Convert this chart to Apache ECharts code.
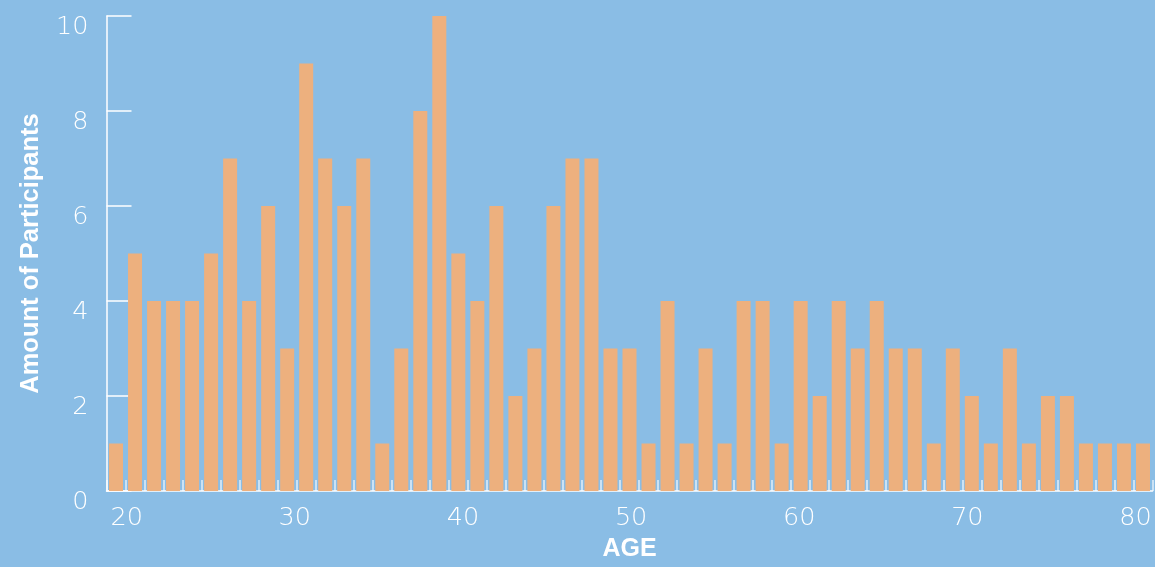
<!DOCTYPE html>
<html>
<head>
<meta charset="utf-8">
<script src="https://cdn.jsdelivr.net/npm/echarts@6/dist/echarts.min.js"></script>
<style>
  html, body { margin: 0; padding: 0; background: #8ABDE5; }
  #chart { width: 1155px; height: 567px; }
</style>
</head>
<body>
<div id="chart"></div>
<script>
// Ages that have at least one participant (one bar each)
const ages = [19, 20, 22, 23, 24, 25, 26, 27, 28, 30, 31, 32, 33, 34, 35, 36, 37, 39, 40, 41,
              42, 43, 44, 45, 46, 48, 49, 50, 51, 52, 53, 54, 56, 57, 58, 59, 60, 61, 62, 63,
              65, 66, 67, 68, 69, 70, 71, 72, 74, 75, 76, 77, 78, 79, 80];
// Number of participants per age
const counts = [1, 5, 4, 4, 4, 5, 7, 4, 6, 3, 9, 7, 6, 7, 1, 3, 8, 10, 5, 4,
                6, 2, 3, 6, 7, 7, 3, 3, 1, 4, 1, 3, 1, 4, 4, 1, 4, 2, 4, 3,
                4, 3, 3, 1, 3, 2, 1, 3, 1, 2, 2, 1, 1, 1, 1];
// Age scale shown under the bars
const ageTicks = [20, 30, 40, 50, 60, 70, 80];
const countTicks = [0, 2, 4, 6, 8, 10];

const white = '#ffffff';
const thinFont = "'DejaVu Sans ExtraLight', 'DejaVu Sans'";
const boldFont = 'Liberation Sans';

const chart = echarts.init(document.getElementById('chart'), null, { renderer: 'canvas' });

chart.setOption({
  animation: false,
  backgroundColor: '#8ABDE5',
  grid: [
    { left: 106.5, right: 2.5, top: 16, bottom: 73 },
    { left: 126.7, right: 19.5, top: 16, bottom: 73 }
  ],
  xAxis: [
    {
      type: 'category',
      gridIndex: 0,
      data: ages,
      boundaryGap: true,
      axisLine: { show: true, lineStyle: { color: white, width: 1.5 } },
      axisTick: { show: true, inside: true, length: 11, lineStyle: { color: 'rgba(255,255,255,0.75)', width: 1.5 } },
      axisLabel: { show: false },
      splitLine: { show: false },
      name: 'AGE',
      nameLocation: 'middle',
      nameGap: 46,
      nameTextStyle: { color: white, fontFamily: boldFont, fontWeight: 'bold', fontSize: 25 }
    },
    {
      type: 'value',
      gridIndex: 1,
      min: ageTicks[0],
      max: ageTicks[ageTicks.length - 1],
      interval: 10,
      axisLine: { show: false },
      axisTick: { show: false },
      splitLine: { show: false },
      axisLabel: {
        color: white, fontFamily: thinFont, fontWeight: 200, fontSize: 25.5, margin: 11,
        showMinLabel: true, showMaxLabel: true
      }
    }
  ],
  yAxis: [
    {
      type: 'value',
      gridIndex: 0,
      min: countTicks[0],
      max: countTicks[countTicks.length - 1],
      interval: 2,
      axisLine: { show: true, lineStyle: { color: white, width: 1.5 } },
      axisTick: { show: true, inside: true, length: 25, lineStyle: { color: white, width: 1.5 } },
      splitLine: { show: false },
      axisLabel: {
        color: white, fontFamily: thinFont, fontWeight: 200, fontSize: 25.5, margin: 18,
        verticalAlign: 'top', lineHeight: 23
      },
      name: 'Amount of Participants',
      nameLocation: 'middle',
      nameGap: 63,
      nameRotate: 90,
      nameTextStyle: { color: white, fontFamily: boldFont, fontWeight: 'bold', fontSize: 25.5 }
    },
    { type: 'value', gridIndex: 1, show: false }
  ],
  series: [
    {
      type: 'bar',
      xAxisIndex: 0,
      yAxisIndex: 0,
      data: counts,
      barWidth: 14,
      itemStyle: { color: '#EDB07E' }
    }
  ]
});
</script>
</body>
</html>
